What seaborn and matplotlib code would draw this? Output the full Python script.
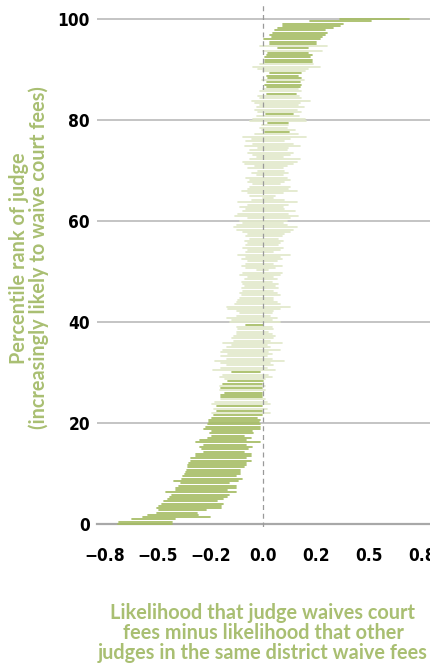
import numpy as np
import pandas as pd
import matplotlib
matplotlib.use("Agg")
import matplotlib.pyplot as plt
from matplotlib import font_manager as fm
import seaborn as sns

# ---- data: interval for each judge, ordered by percentile rank (bottom -> top)
lower = [
    -0.687, -0.679, -0.621, -0.566, -0.542, -0.503, -0.49, -0.50, -0.49, -0.48,
    -0.47, -0.45, -0.44, -0.43, -0.46, -0.41, -0.41, -0.40, -0.39, -0.42,
    -0.385, -0.38, -0.37, -0.365, -0.36, -0.355, -0.355, -0.35, -0.34, -0.34,
    -0.32, -0.32, -0.28, -0.29, -0.30, -0.28, -0.32, -0.30, -0.26, -0.24,
    -0.25, -0.24, -0.28, -0.27, -0.26, -0.255, -0.255, -0.24, -0.235, -0.24,
    -0.22, -0.235, -0.22, -0.24, -0.23, -0.20, -0.20, -0.20, -0.18, -0.205,
    -0.20, -0.205, -0.19, -0.165, -0.18, -0.205, -0.19, -0.15,
    # 30-54
    -0.236, -0.2, -0.17, -0.2, -0.23, -0.17, -0.2, -0.165, -0.2, -0.19,
    -0.17, -0.15, -0.19, -0.14, -0.15, -0.14, -0.126, -0.126, -0.118, -0.126,
    -0.08, -0.157, -0.15, -0.17, -0.126, -0.11, -0.126, -0.165, -0.17, -0.134,
    -0.126, -0.118, -0.11, -0.1, -0.11, -0.094, -0.1, -0.086, -0.094, -0.1,
    -0.086, -0.07, -0.11, -0.094, -0.03, -0.08, -0.1, -0.08, -0.07, -0.1,
    -0.08, -0.118, -0.08,
    # 54-80
    -0.07, -0.094, -0.08, -0.07, -0.086, -0.063, -0.08, -0.07, -0.094, -0.126,
    -0.14, -0.126, -0.094, -0.11, -0.07, -0.134, -0.118, -0.094, -0.08, -0.11,
    -0.07, -0.118, -0.055, 0.0, -0.063, -0.07, -0.1, -0.07, -0.063, -0.047,
    -0.07, -0.063, -0.08, -0.03, -0.055, -0.024, -0.07, -0.04, -0.086, -0.094,
    -0.063, -0.03, -0.047, -0.07, -0.063, -0.024, -0.086, -0.047, -0.08, -0.055,
    -0.094, -0.04, 0.008, -0.008, -0.016, -0.008, 0.024, -0.063,
    # 80-100
    -0.047, -0.03, 0.012, -0.024, -0.04, -0.03, -0.016, -0.04, -0.055, -0.016,
    -0.024, 0.016, -0.016, -0.003, 0.016, 0.008, 0.016, -0.008, 0.024, 0.016,
    0.03, -0.003, -0.024, -0.047, -0.016, 0.008, 0.008, 0.008, 0.016, 0.024,
    -0.003, 0.07, -0.016, 0.03, 0.03, 0.002, 0.04, 0.03, 0.047, 0.055,
    0.07, 0.094, 0.094, 0.22, 0.36,
]
upper = [
    -0.432, -0.432, -0.417, -0.252, -0.307, -0.314, -0.27, -0.20, -0.20, -0.19,
    -0.22, -0.19, -0.17, -0.16, -0.13, -0.17, -0.13, -0.13, -0.16, -0.12,
    -0.10, -0.13, -0.11, -0.11, -0.11, -0.09, -0.08, -0.08, -0.06, -0.08,
    -0.06, -0.06, -0.09, -0.07, -0.055, -0.08, -0.016, -0.08, -0.06, -0.09,
    -0.047, -0.055, -0.016, -0.016, -0.016, -0.02, -0.016, -0.03, -0.008, 0.03,
    -0.008, 0.016, -0.008, 0.03, 0.016, 0.008, -0.008, -0.008, -0.008, 0.008,
    -0.004, 0.008, -0.008, -0.003, 0.008, 0.04, 0.024, -0.016,
    # 30-54
    0.055, 0.016, 0.047, 0.03, 0.1, 0.04, 0.016, 0.04, 0.024, 0.08,
    0.03, 0.016, 0.086, 0.03, 0.047, 0.055, 0.04, 0.024, 0.047, 0.04,
    -0.003, 0.08, 0.04, 0.063, 0.03, 0.04, 0.047, 0.08, 0.126, 0.08,
    0.063, 0.047, 0.047, 0.08, 0.063, 0.047, 0.07, 0.055, 0.07, 0.04,
    0.063, 0.047, 0.08, 0.086, 0.02, 0.055, 0.086, 0.047, 0.063, 0.086,
    0.08, 0.126, 0.047,
    # 54-80
    0.08, 0.094, 0.07, 0.08, 0.094, 0.07, 0.086, 0.1, 0.126, 0.14,
    0.157, 0.11, 0.094, 0.11, 0.126, 0.165, 0.118, 0.15, 0.1, 0.094,
    0.118, 0.157, 0.1, 0.047, 0.055, 0.094, 0.157, 0.118, 0.126, 0.08,
    0.1, 0.126, 0.11, 0.094, 0.118, 0.1, 0.094, 0.11, 0.14, 0.157,
    0.173, 0.094, 0.126, 0.14, 0.11, 0.118, 0.173, 0.14, 0.1, 0.126,
    0.2, 0.165, 0.12, 0.15, 0.11, 0.118, 0.118, 0.2,
    # 80-100
    0.197, 0.17, 0.14, 0.18, 0.157, 0.19, 0.165, 0.173, 0.22, 0.18,
    0.17, 0.154, 0.18, 0.165, 0.173, 0.18, 0.173, 0.19, 0.18, 0.165,
    0.18, 0.197, 0.21, 0.267, 0.236, 0.228, 0.228, 0.22, 0.228, 0.212,
    0.275, 0.212, 0.3, 0.25, 0.25, 0.267, 0.275, 0.29, 0.3, 0.29,
    0.33, 0.36, 0.377, 0.51, 0.69,
]

y_ticks = [0, 20, 40, 60, 80, 100]
y_tick_labels = ["0", "20", "40", "60", "80", "100"]
x_ticks = [-0.75, -0.5, -0.25, 0.0, 0.25, 0.5, 0.75]
x_tick_labels = ["\u22120.8", "\u22120.5", "\u22120.2", "0.0", "0.2", "0.5", "0.8"]

y_label = "Percentile rank of judge\n(increasingly likely to waive court fees)"
x_label = ("Likelihood that judge waives court\nfees minus likelihood that other\n"
           "judges in the same district waive fees")

GREEN = "#a5bc62"
PALE = "#e2e9cb"
LABEL_GREEN = "#a9bf72"

# ---- pick a condensed bold font for the tick numbers if one is installed
def pick_condensed_bold():
    best = None
    for f in fm.fontManager.ttflist:
        name = f.name.lower()
        st = str(f.stretch).lower()
        condensed = ("narrow" in name or "condensed" in name or "condensed" in st)
        w = f.weight if isinstance(f.weight, int) else (700 if "bold" in str(f.weight) else 400)
        if condensed and 600 <= w <= 800 and "italic" not in f.style and "oblique" not in f.style:
            score = 0
            if "extra" in st or "ultra" in name or "extra" in name:
                score -= 2
            if "semi" in st or "semi" in name:
                score -= 1
            if best is None or score > best[0]:
                best = (score, f.fname)
    return best[1] if best else None

cond = pick_condensed_bold()
if cond:
    tick_fp = fm.FontProperties(fname=cond, size=12.4)
else:
    tick_fp = fm.FontProperties(family=["Roboto", "DejaVu Sans"], weight="bold", size=11.8)

n = len(lower)
pct = np.arange(n) / (n - 1) * 100
sig = np.where((np.array(lower) > 0) | (np.array(upper) < 0), "sig", "ns")

df = pd.DataFrame({
    "judge": np.repeat(np.arange(n), 2),
    "value": np.ravel(np.column_stack([lower, upper])),
    "pct": np.repeat(pct, 2),
    "sig": np.repeat(sig, 2),
})

sns.set_style("white")
W, H = 430, 666
fig = plt.figure(figsize=(W / 100, H / 100), dpi=100)

y_lo, y_hi = -0.6, 102.8
px_per = 5.05
bottom_px = 524 + (-y_lo) * px_per
top_px = 524 - y_hi * px_per
ax = fig.add_axes([97 / W, (H - bottom_px) / H, 1 - 97 / W, (bottom_px - top_px) / H])

for yv in y_ticks[1:]:
    ax.axhline(yv, color="#b4b4b4", lw=1.1, zorder=0)

sns.lineplot(data=df, x="value", y="pct", units="judge", estimator=None,
             hue="sig", palette={"sig": GREEN, "ns": PALE}, sort=False,
             legend=False, linewidth=1.25, ax=ax, zorder=2)

ax.axvline(0, color="#9a9a9a", lw=0.9, ls=(0, (4, 3)), zorder=3)

ax.set_xlim(-0.785, 0.787)
ax.set_ylim(y_lo, y_hi)
for s in ["top", "right", "left"]:
    ax.spines[s].set_visible(False)
ax.spines["bottom"].set_position(("data", 0))
ax.spines["bottom"].set_color("#a8a8a8")
ax.spines["bottom"].set_linewidth(1.6)
ax.spines["bottom"].set_zorder(1)

ax.set_xticks(x_ticks)
ax.set_xticklabels(x_tick_labels, color="black")
ax.set_yticks(y_ticks)
ax.set_yticklabels(y_tick_labels, color="black")
for lab in ax.get_xticklabels() + ax.get_yticklabels():
    lab.set_fontproperties(tick_fp)
ax.tick_params(axis="x", length=7.5, width=1.1, color="#a8a8a8", pad=9, direction="out")
ax.tick_params(axis="y", length=0, pad=5)
ax.set_xlabel("")
ax.set_ylabel("")

lab_font = dict(family=["Lato", "DejaVu Sans"], weight="bold", size=14.3, color=LABEL_GREEN)
fig.text(29 / W, 1 - 258 / H, y_label, rotation=90, ha="center", va="center",
         multialignment="center", linespacing=0.98, **lab_font)
fig.text(263 / W, 1 - 633 / H, x_label, ha="center", va="center",
         multialignment="center", linespacing=0.98, **lab_font)

fig.savefig("out.png", dpi=100)
